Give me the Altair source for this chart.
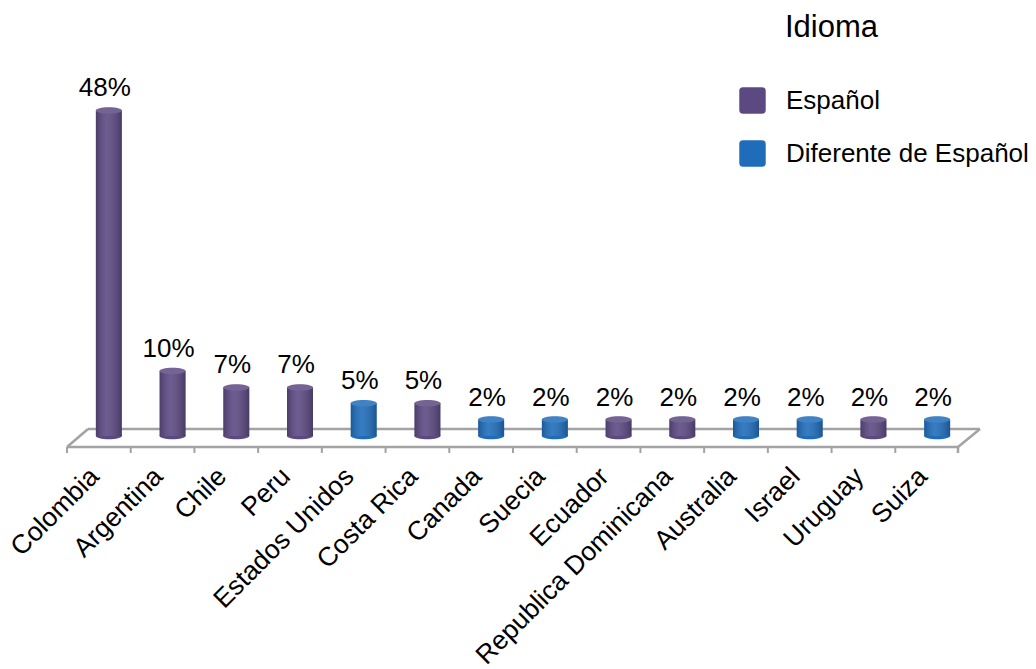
import altair as alt
import pandas as pd

paises = ["Colombia", "Argentina", "Chile", "Peru", "Estados Unidos", "Costa Rica",
          "Canada", "Suecia", "Ecuador", "Republica Dominicana", "Australia",
          "Israel", "Uruguay", "Suiza"]
valores = [47.6, 9.5, 7.1, 7.1, 4.8, 4.8, 2.4, 2.4, 2.4, 2.4, 2.4, 2.4, 2.4, 2.4]
etiquetas = ["48%", "10%", "7%", "7%", "5%", "5%", "2%", "2%", "2%", "2%", "2%", "2%", "2%", "2%"]
idioma = ["Español", "Español", "Español", "Español", "Diferente de Español", "Español",
          "Diferente de Español", "Diferente de Español", "Español", "Español",
          "Diferente de Español", "Diferente de Español", "Español", "Diferente de Español"]

grupos = ["Español", "Diferente de Español"]
colores = ["#5c4982", "#1f6dba"]

df = pd.DataFrame({"pais": paises, "valor": valores, "etiqueta": etiquetas, "idioma": idioma,
                   "cero": [0] * len(paises)})

FONT = "Liberation Sans"
W, H = 892, 342

axis_x = alt.Axis(title=None, labelAngle=-45, labelAlign="right", labelBaseline="middle",
                  labelFontSize=26.5, labelFont=FONT, labelColor="#000000", domain=False,
                  ticks=False, labelPadding=36, labelOffset=-4, grid=False, labelLimit=400)
x_enc = alt.X("pais:N", sort=paises, axis=axis_x,
              scale=alt.Scale(paddingInner=0, paddingOuter=0))
y_scale = alt.Scale(domain=[0, 50], nice=False, zero=True)
color_enc = alt.Color("idioma:N", scale=alt.Scale(domain=grupos, range=colores),
                      legend=alt.Legend(title=None, orient="none", legendX=672, legendY=-7,
                                        symbolType="M-1,-0.72 Q-1,-1 -0.72,-1 L0.72,-1 Q1,-1 1,-0.72 L1,0.72 Q1,1 0.72,1 L-0.72,1 Q-1,1 -1,0.72 Z",
                                        symbolSize=700, symbolStrokeWidth=0, symbolOpacity=1,
                                        labelFont=FONT, labelFontSize=26, labelColor="#000000",
                                        labelOffset=20, rowPadding=26, labelLimit=400))

ellipse = "M-1,0 A1,0.25 0 1,0 1,0 A1,0.25 0 1,0 -1,0 Z"

base = alt.Chart(df)

one = pd.DataFrame({"t": ["Idioma"]})
floor_color = "#a3a3a3"
def seg(x0, y0, x1, y1):
    return alt.Chart(one).mark_rule(color=floor_color, strokeWidth=2.5).encode(
        x=alt.value(x0), x2=alt.value(x1), y=alt.value(y0), y2=alt.value(y1))

floor = [seg(0, 353, 891, 353), seg(21, 335, 913, 335), seg(0, 353, 21, 335), seg(891, 353, 913, 335)]

ticks = base.mark_rule(color=floor_color, strokeWidth=2).encode(
    x=alt.X("pais:N", sort=paises, axis=axis_x, bandPosition=0,
            scale=alt.Scale(paddingInner=0, paddingOuter=0)),
    y=alt.value(353), y2=alt.value(359))
tick_end = seg(891, 353, 891, 359)

bottom_ell = base.mark_point(shape=ellipse, size=676, filled=True, opacity=1, strokeWidth=0,
                             xOffset=10).encode(
    x=x_enc, y=alt.Y("cero:Q", scale=y_scale, axis=None), color=color_enc)

bars = base.mark_bar(size=26, xOffset=10).encode(
    x=x_enc, y=alt.Y("valor:Q", scale=y_scale, axis=None), color=color_enc)

shade = base.mark_bar(size=26, xOffset=10, fill=alt.Gradient(
    gradient="linear", x1=0, x2=1, y1=0, y2=0,
    stops=[alt.GradientStop(color="rgba(0,0,0,0.18)", offset=0),
           alt.GradientStop(color="rgba(255,255,255,0.10)", offset=0.4),
           alt.GradientStop(color="rgba(0,0,0,0.22)", offset=1)])).encode(
    x=x_enc, y=alt.Y("valor:Q", scale=y_scale, axis=None))

top_ell = base.mark_point(shape=ellipse, size=676, filled=True, opacity=1, strokeWidth=0,
                          xOffset=10).encode(
    x=x_enc, y=alt.Y("valor:Q", scale=y_scale, axis=None), color=color_enc)
top_light = base.mark_point(shape=ellipse, size=676, filled=True, opacity=0.15, strokeWidth=0,
                            xOffset=10, color="#ffffff").encode(
    x=x_enc, y=alt.Y("valor:Q", scale=y_scale, axis=None))

labels = base.mark_text(font=FONT, fontSize=26, color="#000000", baseline="alphabetic",
                        dy=-14, dx=6).encode(
    x=x_enc, y=alt.Y("valor:Q", scale=y_scale, axis=None), text="etiqueta:N")

title = alt.Chart(one).mark_text(font=FONT, fontSize=31, color="#000000", align="left",
                                 baseline="alphabetic").encode(
    x=alt.value(718), y=alt.value(-57), text="t:N")

chart = alt.layer(*floor, ticks, tick_end, bottom_ell, bars, shade, top_ell, top_light,
                  labels, title).properties(
    width=W, height=H,
    autosize=alt.AutoSizeParams(type="none"),
    padding={"left": 67, "top": 94, "right": 77, "bottom": 233},
    background="#ffffff",
).configure_view(stroke=None)

chart.save("out.html", embed_options={"renderer": "svg", "actions": False})
